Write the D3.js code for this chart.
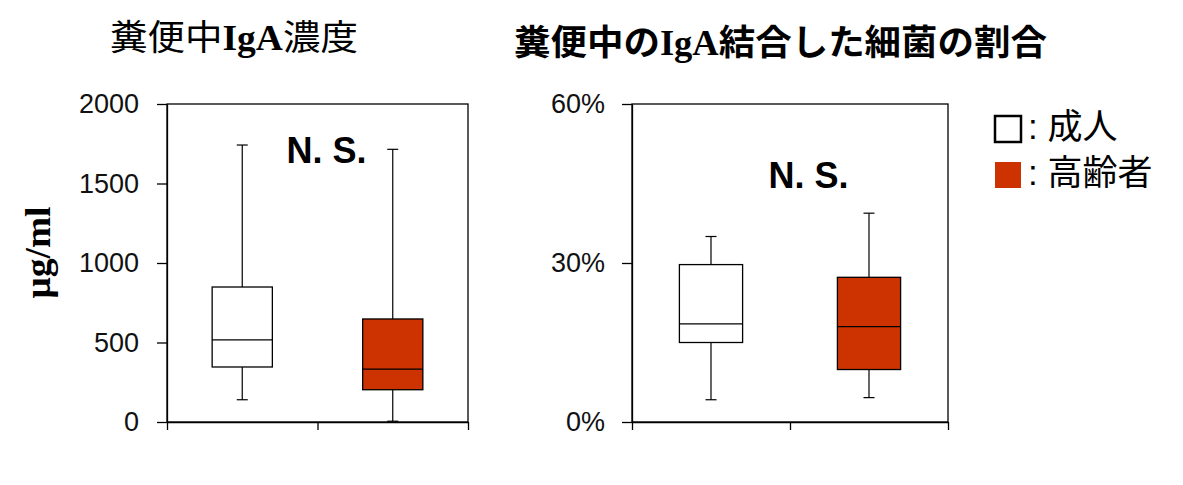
<!DOCTYPE html>
<html>
<head>
<meta charset="utf-8">
<script src="https://cdn.jsdelivr.net/npm/d3@7"></script>
<style>
    body { margin: 0; background: #fff; }
</style>
</head>
<body>
<div id="chart"></div>
<script>
const groups = ["成人", "高齢者"];
const groupFill = ["#ffffff", "#cc3300"];

// 糞便中IgA濃度 (μg/ml)
const igaLow = [140, 5];
const igaQ1 = [346, 203];
const igaMedian = [516, 333];
const igaQ3 = [849, 648];
const igaHigh = [1742, 1715];
const igaTicks = [0, 500, 1000, 1500, 2000];

// 糞便中のIgA結合した細菌の割合 (%)
const bindLow = [4.2, 4.6];
const bindQ1 = [15.0, 9.9];
const bindMedian = [18.5, 18.0];
const bindQ3 = [29.7, 27.3];
const bindHigh = [35.0, 39.4];
const bindTicks = [0, 30, 60];

const sansFont = "'Liberation Sans', Arial, sans-serif";
const serifFont = "'Liberation Serif', 'Times New Roman', serif";
const cjkFont = "'Noto Sans CJK JP', sans-serif";

var svg = d3.select("#chart").append("svg")
    .attr("width", 1183)
    .attr("height", 485);

function drawPanel(p) {
    var x = d3.scaleBand().domain(groups).range([p.left, p.right]);
    var edge = d3.scaleLinear().domain([0, groups.length]).range([p.left, p.right]);
    var y = d3.scaleLinear().domain(p.domain).range([p.bottom, p.top]);
    var g = svg.append("g");

    var rows = groups.map((k, i) => ({
        key: k, fill: groupFill[i],
        low: p.low[i], q1: p.q1[i], median: p.median[i], q3: p.q3[i], high: p.high[i]
    }));

    // frame around the plot
    g.append("rect")
        .attr("x", p.left).attr("y", p.top)
        .attr("width", p.right - p.left).attr("height", p.bottom - p.top)
        .attr("fill", "none").attr("stroke", "#000").attr("stroke-width", 1.3);

    // y axis
    var ya = g.append("g")
        .attr("transform", "translate(" + p.left + ",0)")
        .call(d3.axisLeft(y).tickValues(p.ticks).tickSize(10).tickSizeOuter(0)
            .tickPadding(p.pad).tickFormat(p.fmt));
    ya.attr("font-size", 27).attr("font-family", sansFont);
    ya.selectAll("line, path").attr("stroke-width", 1.3);
    ya.selectAll("text").attr("fill", "#111");

    // x axis, ticks at the band edges
    var xa = g.append("g")
        .attr("transform", "translate(0," + p.bottom + ")")
        .call(d3.axisBottom(edge).tickValues(d3.range(groups.length + 1)).tickSize(8)
            .tickSizeOuter(0).tickFormat(""));
    xa.selectAll("line, path").attr("stroke-width", 1.3);

    var bw = x.bandwidth() * 0.4;
    var cap = 11;
    var cx = d => x(d.key) + x.bandwidth() / 2;

    var box = g.selectAll(".box").data(rows).enter().append("g").attr("class", "box");

    // whiskers
    box.append("line")
        .attr("x1", cx).attr("x2", cx)
        .attr("y1", d => y(d.high)).attr("y2", d => y(d.q3))
        .attr("stroke", "#000").attr("stroke-width", 1.2);
    box.append("line")
        .attr("x1", cx).attr("x2", cx)
        .attr("y1", d => y(d.q1)).attr("y2", d => y(d.low))
        .attr("stroke", "#000").attr("stroke-width", 1.2);
    box.append("line")
        .attr("x1", d => cx(d) - cap / 2).attr("x2", d => cx(d) + cap / 2)
        .attr("y1", d => y(d.high)).attr("y2", d => y(d.high))
        .attr("stroke", "#000").attr("stroke-width", 1.2);
    box.append("line")
        .attr("x1", d => cx(d) - cap / 2).attr("x2", d => cx(d) + cap / 2)
        .attr("y1", d => y(d.low)).attr("y2", d => y(d.low))
        .attr("stroke", "#000").attr("stroke-width", 1.2);

    // box
    box.append("rect")
        .attr("x", d => cx(d) - bw / 2)
        .attr("y", d => y(d.q3))
        .attr("width", bw)
        .attr("height", d => y(d.q1) - y(d.q3))
        .attr("fill", d => d.fill)
        .attr("stroke", "#000").attr("stroke-width", 1.3);

    // median
    box.append("line")
        .attr("x1", d => cx(d) - bw / 2).attr("x2", d => cx(d) + bw / 2)
        .attr("y1", d => y(d.median)).attr("y2", d => y(d.median))
        .attr("stroke", "#000").attr("stroke-width", 1.3);

    // N. S.
    g.append("text")
        .attr("x", edge(1) + p.nsDx)
        .attr("y", p.nsY)
        .attr("text-anchor", "middle")
        .attr("font-family", sansFont)
        .attr("font-weight", "bold")
        .attr("font-size", 36)
        .text("N. S.");

    // Title
    var t = g.append("text")
        .attr("x", p.titleX)
        .attr("y", p.titleY)
        .attr("font-size", 35)
        .attr("textLength", p.titleW)
        .attr("lengthAdjust", "spacingAndGlyphs");
    for (let part of p.title) {
        t.append("tspan")
            .attr("font-family", part.latin ? serifFont : cjkFont)
            .attr("font-weight", part.latin || p.titleBold ? "bold" : "normal")
            .text(part.s);
    }
    return y;
}

drawPanel({
    left: 167, right: 468, top: 104, bottom: 422,
    domain: [0, 2000], ticks: igaTicks, fmt: d3.format("d"), pad: 18,
    low: igaLow, q1: igaQ1, median: igaMedian, q3: igaQ3, high: igaHigh,
    nsDx: 9, nsY: 163,
    title: [{s: "糞便中"}, {s: "IgA", latin: true}, {s: "濃度"}],
    titleX: 110, titleY: 50, titleW: 248, titleBold: false
});

drawPanel({
    left: 632, right: 948, top: 104, bottom: 422,
    domain: [0, 60], ticks: bindTicks, fmt: d => d + "%", pad: 17,
    low: bindLow, q1: bindQ1, median: bindMedian, q3: bindQ3, high: bindHigh,
    nsDx: 18.5, nsY: 188,
    title: [{s: "糞便中の"}, {s: "IgA", latin: true}, {s: "結合した細菌の割合"}],
    titleX: 514, titleY: 55, titleW: 533, titleBold: true
});

// y label
svg.append("text")
    .attr("transform", "translate(50,252.5) rotate(-90)")
    .attr("text-anchor", "middle")
    .attr("font-family", serifFont)
    .attr("font-weight", "bold")
    .attr("font-size", 36)
    .attr("textLength", 92)
    .attr("lengthAdjust", "spacingAndGlyphs")
    .text("μg/ml");

// legend
var legend = svg.append("g").selectAll("g")
    .data(groups)
    .enter().append("g")
    .attr("transform", (d, i) => "translate(995," + (116 + i * 46) + ")");
legend.append("rect")
    .attr("width", 26).attr("height", 26)
    .attr("fill", (d, i) => groupFill[i])
    .attr("stroke", (d, i) => i == 0 ? "#000" : "none")
    .attr("stroke-width", 2.5);
legend.append("text")
    .attr("x", 33).attr("y", 23)
    .attr("font-size", 35)
    .each(function(d) {
        d3.select(this).append("tspan").attr("font-family", sansFont).text(": ");
        d3.select(this).append("tspan").attr("font-family", cjkFont).text(d);
    });
</script>
</body>
</html>
